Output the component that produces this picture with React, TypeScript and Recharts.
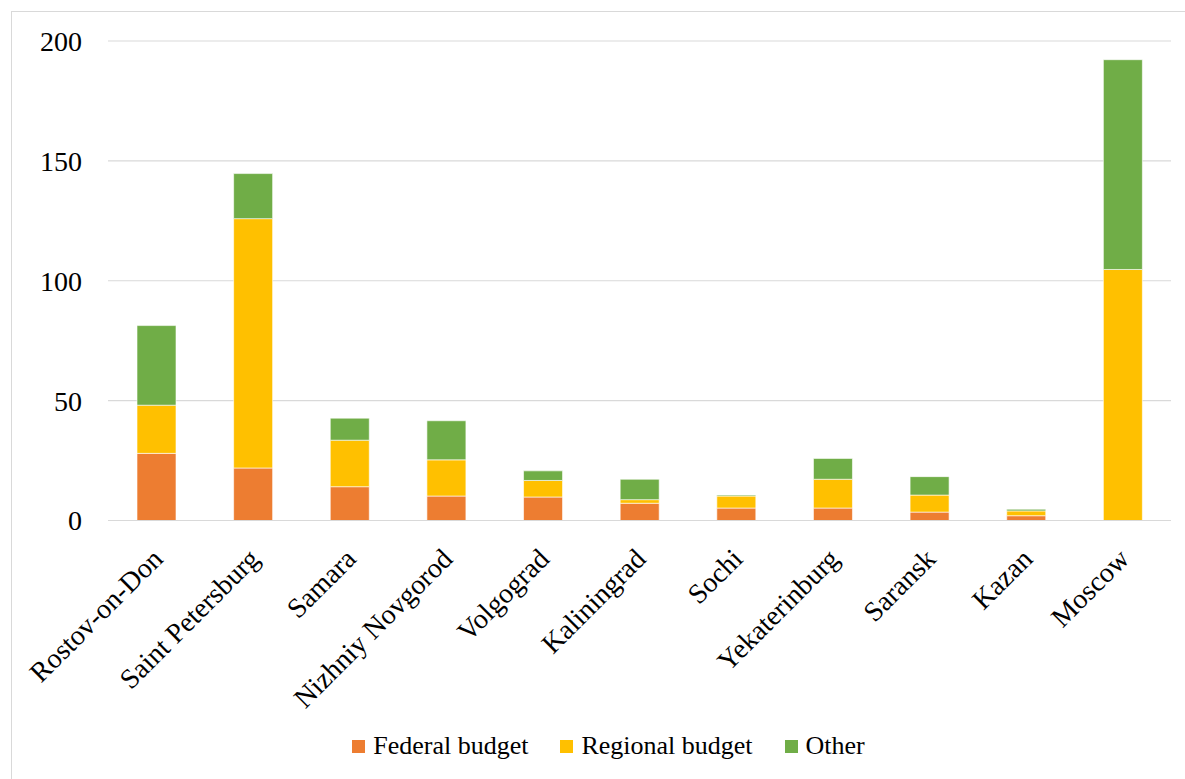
import React from "react";
import { BarChart, Bar, XAxis, YAxis, CartesianGrid, Legend } from "recharts";

const cities = [
  "Rostov-on-Don",
  "Saint Petersburg",
  "Samara",
  "Nizhniy Novgorod",
  "Volgograd",
  "Kaliningrad",
  "Sochi",
  "Yekaterinburg",
  "Saransk",
  "Kazan",
  "Moscow",
];
const federal = [28, 21.9, 14.1, 10.2, 9.8, 7.2, 5.2, 5.2, 3.5, 2.0, 0];
const regional = [20.1, 104, 19.4, 15.1, 6.9, 1.5, 5.0, 12.0, 7.1, 2.0, 104.7];
const other = [33.2, 18.8, 9.2, 16.3, 4.0, 8.5, 0.4, 8.7, 7.7, 0.7, 87.5];
const yTicks = [0, 50, 100, 150, 200];

const series = [
  { key: "federal", name: "Federal budget", color: "#ED7D31" },
  { key: "regional", name: "Regional budget", color: "#FFC000" },
  { key: "other", name: "Other", color: "#70AD47" },
];

const data = cities.map((city, i) => ({
  city,
  federal: federal[i],
  regional: regional[i],
  other: other[i],
}));

const FONT = "'Liberation Serif', 'Times New Roman', serif";

function CityTick(props: any) {
  const { x, y, payload } = props;
  return (
    <text
      transform={`translate(${x + 8}, ${y + 32}) rotate(-45)`}
      textAnchor="end"
      fontFamily={FONT}
      fontSize={28}
      fill="#000"
    >
      {payload.value}
    </text>
  );
}

function LegendContent() {
  return (
    <div
      style={{
        display: "flex",
        justifyContent: "center",
        alignItems: "center",
        gap: 32,
        paddingLeft: 46,
        fontFamily: FONT,
        fontSize: 26,
        color: "#000",
      }}
    >
      {series.map((s) => (
        <div key={s.key} style={{ display: "flex", alignItems: "center" }}>
          <span style={{ width: 13, height: 13, background: s.color, marginRight: 8 }} />
          <span>{s.name}</span>
        </div>
      ))}
    </div>
  );
}

export default function App() {
  return (
    <div style={{ position: "absolute", left: 0, top: 0, width: 1185, height: 779, background: "#fff" }}>
      <div
        style={{
          position: "absolute",
          left: 11,
          top: 11,
          right: -5,
          bottom: -5,
          borderLeft: "1.5px solid #D9D9D9",
          borderTop: "1.5px solid #D9D9D9",
        }}
      />
      <BarChart
        width={1185}
        height={779}
        data={data}
        margin={{ top: 41, right: 14, left: 0, bottom: 14 }}
        barSize={39}
      >
        <CartesianGrid vertical={false} stroke="#D9D9D9" strokeWidth={1.2} />
        <XAxis
          dataKey="city"
          interval={0}
          height={204.5}
          tickLine={false}
          axisLine={{ stroke: "#D9D9D9", strokeWidth: 1.2 }}
          tick={<CityTick />}
        />
        <YAxis
          width={108}
          domain={[0, 200]}
          ticks={yTicks}
          axisLine={false}
          tickLine={false}
          tickSize={0}
          tickMargin={26}
          tick={{ fontFamily: FONT, fontSize: 28, fill: "#000" }}
        />
        <Legend
          verticalAlign="bottom"
          height={40}
          wrapperStyle={{ bottom: 8 }}
          content={<LegendContent />}
        />
        {series.map((s) => (
          <Bar
            key={s.key}
            dataKey={s.key}
            name={s.name}
            stackId="total"
            fill={s.color}
            stroke="#ffffff"
            strokeWidth={0.6}
            isAnimationActive={false}
          />
        ))}
      </BarChart>
    </div>
  );
}
